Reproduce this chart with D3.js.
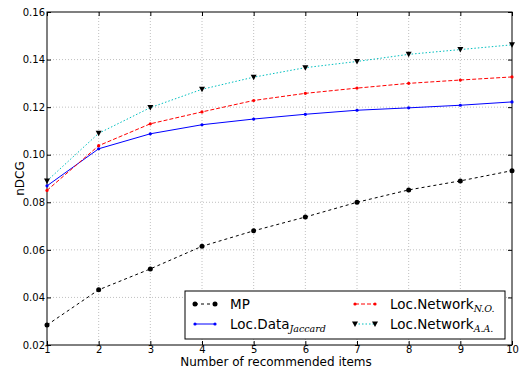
<!DOCTYPE html>
<html>
<head>
<meta charset="utf-8">
<script src="https://cdn.jsdelivr.net/npm/d3@7"></script>
<style>
  body { margin: 0; background: #fff; }
  text { font-family: "DejaVu Sans", sans-serif; }
</style>
</head>
<body>
<div id="chart"></div>
<script>
// values
var items = [1, 2, 3, 4, 5, 6, 7, 8, 9, 10];
var mp = [0.0284, 0.0432, 0.0520, 0.0615, 0.0680, 0.0738, 0.0800, 0.0852, 0.0890, 0.0933];
var locData = [0.0869, 0.1025, 0.1088, 0.1126, 0.1150, 0.1170, 0.1187, 0.1197, 0.1208, 0.1222];
var locNetNO = [0.0850, 0.1038, 0.1130, 0.1180, 0.1228, 0.1258, 0.1280, 0.1300, 0.1314, 0.1327];
var locNetAA = [0.0890, 0.1090, 0.1198, 0.1275, 0.1326, 0.1366, 0.1392, 0.1422, 0.1442, 0.1462];
var yTicks = [0.02, 0.04, 0.06, 0.08, 0.10, 0.12, 0.14, 0.16];

var W = 520, H = 371;
var margin = { top: 12, right: 8, bottom: 26, left: 47 };
var width = W - margin.left - margin.right,
  height = H - margin.top - margin.bottom;

var svg = d3.select("#chart").append("svg")
  .attr("width", W).attr("height", H);
var g = svg.append("g")
  .attr("transform", "translate(" + margin.left + "," + margin.top + ")");

var x = d3.scaleLinear().domain([1, 10]).range([0, width]);
var y = d3.scaleLinear().domain([0.02, 0.16]).range([height, 0]);

// grid
g.append("g").selectAll("line").data(items.slice(1, -1)).enter().append("line")
  .attr("x1", d => x(d)).attr("x2", d => x(d))
  .attr("y1", 0).attr("y2", height)
  .attr("stroke", "#b0b0b0").attr("stroke-width", 0.8).attr("stroke-dasharray", "1,2");
g.append("g").selectAll("line").data(yTicks.slice(1, -1)).enter().append("line")
  .attr("y1", d => y(d)).attr("y2", d => y(d))
  .attr("x1", 0).attr("x2", width)
  .attr("stroke", "#b0b0b0").attr("stroke-width", 0.8).attr("stroke-dasharray", "1,2");

// axes, ticks inside
g.append("g").attr("transform", "translate(0," + height + ")")
  .call(d3.axisBottom(x).tickValues(items).tickFormat(d3.format("d")).tickSizeInner(-4).tickSizeOuter(0).tickPadding(1));
g.append("g")
  .call(d3.axisLeft(y).tickValues(yTicks).tickFormat(d3.format(".2f")).tickSizeInner(-4).tickSizeOuter(0).tickPadding(2));
g.append("g")
  .call(d3.axisTop(x).tickValues(items).tickFormat("").tickSizeInner(-4).tickSizeOuter(0));
g.append("g").attr("transform", "translate(" + width + ",0)")
  .call(d3.axisRight(y).tickValues(yTicks).tickFormat("").tickSizeInner(-4).tickSizeOuter(0));
g.selectAll(".domain").remove();
g.selectAll(".tick line").attr("stroke", "#000");
g.selectAll(".tick text").attr("font-size", 10).attr("fill", "#000")
  .attr("font-family", "DejaVu Sans, sans-serif");

// frame
g.append("rect").attr("width", width).attr("height", height)
  .attr("fill", "none").attr("stroke", "#000").attr("stroke-width", 1);

var line = d3.line().x((d, i) => x(items[i])).y(d => y(d));

var series = [
  { name: "MP", values: mp, color: "#000", dash: "3,3", marker: "circle", mcolor: "#000" },
  { name: "Loc.Data", sub: "Jaccard", values: locData, color: "#0000ff", dash: null, marker: "dot", mcolor: "#0000ff" },
  { name: "Loc.Network", sub: "N.O.", values: locNetNO, color: "#ff0000", dash: "4,2", marker: "dot", mcolor: "#ff0000" },
  { name: "Loc.Network", sub: "A.A.", values: locNetAA, color: "#00bfbf", dash: "1.5,2", marker: "tri", mcolor: "#000" }
];

function drawMarker(sel, s, cx, cy) {
  if (s.marker === "circle") {
    sel.append("circle").attr("cx", cx).attr("cy", cy).attr("r", 2.5).attr("fill", s.mcolor);
  } else if (s.marker === "dot") {
    sel.append("circle").attr("cx", cx).attr("cy", cy).attr("r", 1.6).attr("fill", s.mcolor);
  } else {
    sel.append("path")
      .attr("d", "M" + (cx - 3) + "," + (cy - 2.5) + "L" + (cx + 3) + "," + (cy - 2.5) + "L" + cx + "," + (cy + 3) + "Z")
      .attr("fill", "#000");
  }
}

series.forEach(function(s) {
  var sg = g.append("g");
  sg.append("path").attr("d", line(s.values))
    .attr("fill", "none").attr("stroke", s.color).attr("stroke-width", 1)
    .attr("stroke-dasharray", s.dash);
  s.values.forEach(function(v, i) { drawMarker(sg, s, x(items[i]), y(v)); });
});

// axis labels
svg.append("text").attr("x", 276).attr("y", 366)
  .attr("text-anchor", "middle").attr("font-size", 12).text("Number of recommended items");
svg.append("text").attr("transform", "translate(24," + (margin.top + height / 2) + ") rotate(-90)")
  .attr("text-anchor", "middle").attr("font-size", 12).text("nDCG");

// legend
var lg = svg.append("g").attr("transform", "translate(185,291)");
lg.append("rect").attr("width", 320).attr("height", 48)
  .attr("fill", "#fff").attr("stroke", "#000").attr("stroke-width", 1);
var pos = [[0, 0], [160, 0], [0, 1], [160, 1]];
var order = [0, 2, 1, 3];
order.forEach(function(si, k) {
  var s = series[si];
  var px = 10 + pos[k][0], py = 13 + pos[k][1] * 20;
  var eg = lg.append("g");
  eg.append("line").attr("x1", px).attr("x2", px + 20).attr("y1", py).attr("y2", py)
    .attr("stroke", s.color).attr("stroke-width", 1).attr("stroke-dasharray", s.dash);
  drawMarker(eg, s, px, py);
  drawMarker(eg, s, px + 20, py);
  var t = eg.append("text").attr("x", px + 35).attr("y", py + 5).attr("font-size", 13.5);
  t.append("tspan").text(s.name);
  if (s.sub) {
    t.append("tspan").attr("dy", 3).attr("font-size", 9.5)
      .attr("font-family", "DejaVu Serif, serif").attr("font-style", "italic").text(s.sub);
  }
});
</script>
</body>
</html>
